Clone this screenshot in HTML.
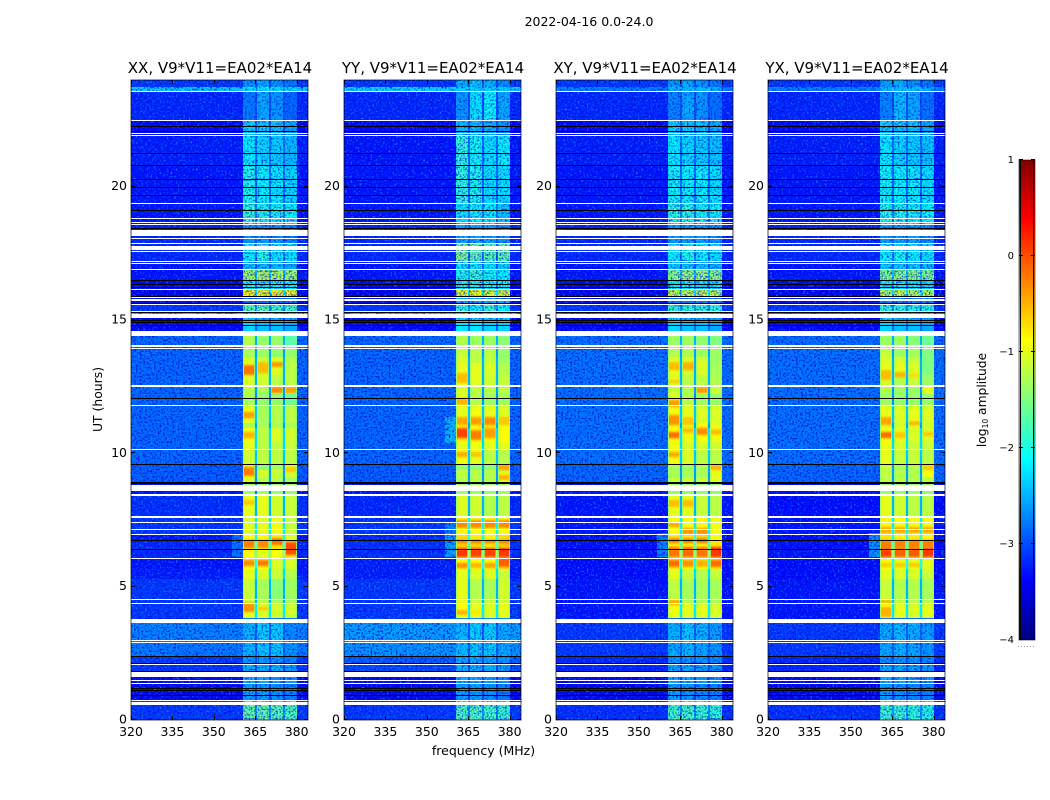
<!DOCTYPE html>
<html>
<head>
<meta charset="utf-8">
<title>2022-04-16 0.0-24.0</title>
<style>
html,body{margin:0;padding:0;background:#fff;}
svg{display:block;}
text{font-family:"DejaVu Sans","Liberation Sans",sans-serif;fill:#000;}
</style>
</head>
<body>
<svg id="figure" xmlns="http://www.w3.org/2000/svg" width="1050" height="800" viewBox="0 0 1050 800">
  <defs>
    <filter id="noise-light" x="0" y="0" width="1" height="1" color-interpolation-filters="sRGB">
      <feTurbulence type="fractalNoise" baseFrequency="0.55" numOctaves="1" seed="4"/>
      <feColorMatrix type="matrix" values="0 0 0 0 0.05  0 0 0 0 0.55  0 0 0 0 1  3.4 0 0 0 -1.75"/>
    </filter>
    <filter id="noise-dark" x="0" y="0" width="1" height="1" color-interpolation-filters="sRGB">
      <feTurbulence type="fractalNoise" baseFrequency="0.55" numOctaves="1" seed="11"/>
      <feColorMatrix type="matrix" values="0 0 0 0 0  0 0 0 0 0.05  0 0 0 0 0.85  3.4 0 0 0 -1.6"/>
    </filter>
    <filter id="soft-edge" x="-5%" y="-80%" width="110%" height="260%" color-interpolation-filters="sRGB">
      <feGaussianBlur stdDeviation="0 1"/>
    </filter>
  </defs>
  <text x="589" y="26" font-size="12.5" text-anchor="middle">2022-04-16 0.0-24.0</text>
  <text transform="translate(102,399.5) rotate(-90)" font-size="12.4" text-anchor="middle">UT (hours)</text>
  <text x="483.5" y="755" font-size="12.5" text-anchor="middle">frequency (MHz)</text>
  <text transform="translate(986,400) rotate(-90)" font-size="12.3" text-anchor="middle">log<tspan font-size="7.5" dy="2">10</tspan><tspan dy="-2"> amplitude</tspan></text>
</svg>
<script>
// Axis tick values
const freqTicks = [320, 335, 350, 365, 380];
const timeTicks = [0, 5, 10, 15, 20];
const colorTicks = [1, 0, -1, -2, -3, -4];
const panelTitles = ["XX, V9*V11=EA02*EA14", "YY, V9*V11=EA02*EA14", "XY, V9*V11=EA02*EA14", "YX, V9*V11=EA02*EA14"];

// Frequency column edges (MHz): low background, four sub-bands with gaps, high background
const freqEdges = [320, 360.7, 364.9, 365.7, 370, 370.7, 375.2, 375.9, 380, 384.1];

// Time segment edges (UT hours, from top to bottom)
const timeEdges = [24, 23.75, 23.55, 22.48, 21.9, 20.82, 19.36, 18.6, 17.85, 17.2, 16.88, 16.47, 16.14, 15.89, 15.57, 15.33, 15.22, 14.48, 13.93, 13.6, 13.37, 12.92, 12.53, 12.23, 11.78, 11.14, 10.94, 10.42, 10.13, 9.6, 9.38, 9.11, 8.9, 8.43, 7.61, 6.97, 6.74, 6.38, 6.06, 5.68, 5.3, 4.54, 4.35, 3.81, 3.62, 2.93, 2.4, 2.06, 1.82, 1.35, 0.73, 0];

// log10 amplitude in the channel gaps, one value per time segment
const gapLevels = [-3.0, -2.3, -3.0, -2.9, -2.8, -2.8, -2.7, -2.9, -2.8, -2.9, -2.4, -2.8, -2.2, -3.0, -2.6, -2.3, -2.9, -2.5, -2.6, -2.5, -2.5, -2.5, -2.6, -2.7, -2.4, -2.6, -2.3, -2.3, -2.4, -2.6, -2.6, -2.6, -2.8, -2.5, -2.2, -2.0, -1.7, -1.4, -2.0, -2.3, -2.5, -2.5, -2.2, -2.9, -2.9, -2.9, -3.0, -3.0, -3.0, -3.1, -2.6];

// log10 amplitude per time segment: [background, sub-band 1, 2, 3, 4]
const xxLevels = [
[-3.1,-2.6,-2.5,-2.6,-2.75],[-2.3,-2.2,-2.2,-2.2,-2.25],[-3.2,-2.75,-2.5,-2.6,-2.85],[-3.4,-2.3,-2.35,-2.35,-2.5],
[-3.25,-2.15,-2.25,-2.3,-2.4],[-3.3,-2.0,-2.1,-2.15,-2.25],[-3.3,-1.9,-2.0,-2.05,-2.1],[-3.2,-2.6,-2.6,-2.6,-2.7],
[-3.2,-2.1,-1.95,-2.15,-2.2],[-3.3,-2.4,-2.4,-2.4,-2.5],[-3.3,-1.35,-1.25,-1.25,-1.35],[-3.45,-2.05,-2.05,-2.1,-2.15],
[-3.5,-0.85,-0.85,-0.85,-0.9],[-3.4,-2.8,-2.8,-2.8,-2.8],[-3.1,-1.7,-1.7,-1.8,-1.8],[-2.3,-2.2,-2.2,-2.2,-2.25],
[-3.4,-2.35,-2.45,-2.45,-2.55],[-2.85,-1.25,-1.4,-1.4,-1.7],[-2.85,-1.3,-1.35,-1.4,-1.4],[-2.85,-1.05,-1.15,-1.05,-1.25],
[-2.85,-1.0,-1.1,-1.05,-1.2],[-2.85,-1.05,-1.1,-1.2,-1.2],[-2.85,-1.2,-1.3,-1.1,-1.15],[-2.85,-1.3,-1.4,-1.4,-1.6],
[-2.85,-1.0,-1.3,-1.25,-1.2],[-2.85,-1.3,-1.3,-1.3,-1.3],[-2.85,-0.95,-1.2,-1.05,-1.1],[-2.85,-1.0,-1.2,-1.2,-1.15],
[-2.85,-1.1,-1.2,-1.2,-1.2],[-2.9,-1.0,-1.4,-1.3,-1.05],[-2.9,-0.95,-1.1,-1.15,-1.1],[-2.9,-1.05,-1.25,-1.25,-1.3],
[-3.3,-1.35,-1.35,-1.35,-1.4],[-3.15,-1.0,-1.0,-1.1,-1.15],[-3.1,-1.05,-1.0,-0.95,-1.15],[-3.3,-0.9,-0.9,-0.8,-1.05],
[-3.2,-0.8,-0.85,-0.75,-0.65],[-3.2,-0.85,-1.0,-0.9,-0.75],[-3.3,-0.9,-0.9,-1.05,-1.05],[-3.25,-1.0,-1.05,-1.15,-1.25],
[-3.1,-1.15,-1.3,-1.45,-1.35],[-3.1,-1.15,-1.25,-1.3,-1.3],[-3.1,-1.0,-1.05,-1.1,-1.1],[-3.2,-2.8,-2.8,-2.8,-2.8],
[-2.7,-2.45,-2.3,-2.3,-2.65],[-2.75,-2.45,-2.35,-2.35,-2.6],[-3.1,-2.6,-2.6,-2.6,-2.7],[-3.1,-2.45,-2.45,-2.45,-2.55],
[-3.4,-2.45,-2.45,-2.55,-2.6],[-3.5,-2.55,-2.55,-2.6,-2.7],[-3.1,-1.65,-1.65,-1.7,-1.75]];

const yyLevels = [
[-3.1,-2.45,-2.35,-2.45,-2.65],[-2.25,-2.25,-2.25,-2.25,-2.25],[-3.2,-2.6,-2.2,-2.1,-2.5],[-3.4,-2.4,-2.4,-2.45,-2.6],
[-3.3,-1.9,-2.05,-2.2,-2.1],[-3.3,-1.9,-2.0,-2.2,-2.2],[-3.3,-2.2,-2.1,-2.15,-2.35],[-3.2,-2.5,-2.5,-2.5,-2.6],
[-3.2,-1.5,-1.65,-1.7,-1.65],[-3.3,-2.2,-2.2,-2.2,-2.3],[-3.3,-2.0,-1.85,-2.05,-2.1],[-3.45,-2.0,-2.0,-2.1,-2.1],
[-3.5,-1.0,-0.9,-1.1,-1.1],[-3.4,-2.5,-2.5,-2.5,-2.5],[-3.1,-1.85,-2.1,-1.85,-2.1],[-2.25,-2.2,-2.2,-2.2,-2.2],
[-3.4,-2.25,-2.25,-2.35,-2.35],[-2.85,-1.25,-1.35,-1.35,-1.45],[-2.85,-1.15,-1.2,-1.2,-1.4],[-2.85,-1.05,-1.2,-1.15,-1.35],
[-2.85,-1.0,-1.0,-1.05,-1.25],[-2.85,-0.95,-1.0,-1.1,-1.15],[-2.85,-1.05,-1.2,-1.2,-1.2],[-2.85,-1.0,-1.25,-1.35,-1.35],
[-2.85,-1.0,-0.95,-1.0,-1.05],[-2.85,-0.85,-0.85,-0.8,-0.95],[-2.85,-0.8,-0.85,-0.85,-0.9],[-2.85,-1.0,-0.95,-1.0,-1.0],
[-2.85,-0.95,-1.0,-1.2,-1.25],[-2.9,-1.4,-1.4,-1.4,-1.0],[-2.9,-1.2,-1.25,-1.25,-1.0],[-2.9,-1.25,-1.25,-1.25,-1.05],
[-3.3,-1.35,-1.35,-1.35,-1.35],[-3.2,-1.05,-1.1,-1.25,-1.2],[-3.1,-0.85,-0.9,-0.9,-0.9],[-3.2,-0.7,-0.8,-0.85,-0.7],
[-3.15,-0.65,-0.65,-0.75,-0.6],[-3.15,-0.65,-0.65,-0.65,-0.55],[-3.25,-0.85,-0.9,-0.85,-0.7],[-3.25,-1.0,-1.05,-1.05,-1.15],
[-3.1,-1.0,-1.25,-1.3,-1.1],[-3.1,-1.0,-1.15,-1.15,-1.15],[-3.1,-0.9,-1.0,-1.05,-1.0],[-3.0,-2.7,-2.7,-2.7,-2.7],
[-2.55,-2.4,-2.3,-2.3,-2.5],[-2.6,-2.4,-2.35,-2.35,-2.5],[-2.9,-2.5,-2.5,-2.5,-2.6],[-3.0,-2.45,-2.45,-2.45,-2.55],
[-3.4,-2.45,-2.45,-2.55,-2.6],[-3.5,-2.55,-2.55,-2.6,-2.7],[-3.1,-1.75,-1.75,-1.8,-1.85]];

const xyLevels = [
[-3.1,-2.55,-2.5,-2.6,-2.75],[-2.7,-2.4,-2.4,-2.4,-2.5],[-3.2,-2.7,-2.5,-2.6,-2.8],[-3.4,-2.3,-2.35,-2.35,-2.5],
[-3.25,-2.15,-2.25,-2.3,-2.35],[-3.3,-2.05,-2.1,-2.1,-2.2],[-3.3,-1.95,-1.95,-2.05,-2.1],[-3.2,-2.55,-2.55,-2.55,-2.65],
[-3.2,-2.1,-2.0,-2.15,-2.2],[-3.3,-2.35,-2.35,-2.35,-2.45],[-3.3,-1.45,-1.4,-1.4,-1.45],[-3.45,-2.1,-2.1,-2.2,-2.2],
[-3.5,-1.15,-1.15,-1.15,-1.2],[-3.4,-2.7,-2.7,-2.7,-2.7],[-3.1,-1.85,-1.9,-1.9,-1.9],[-2.7,-2.35,-2.35,-2.35,-2.35],
[-3.4,-2.35,-2.45,-2.45,-2.55],[-2.8,-1.35,-1.35,-1.4,-1.5],[-2.8,-1.25,-1.25,-1.35,-1.35],[-2.8,-1.05,-1.05,-1.05,-1.35],
[-2.8,-1.0,-1.1,-1.05,-1.3],[-2.8,-1.05,-1.2,-1.2,-1.25],[-2.8,-1.15,-1.25,-1.0,-1.15],[-2.8,-1.05,-1.25,-1.35,-1.4],
[-2.8,-0.95,-1.0,-1.05,-1.05],[-2.8,-1.0,-1.0,-0.9,-1.0],[-2.8,-0.85,-0.95,-0.9,-0.95],[-2.8,-0.95,-1.05,-1.05,-1.1],
[-2.8,-0.95,-1.05,-1.2,-1.2],[-2.85,-1.25,-1.35,-1.25,-1.0],[-2.85,-1.3,-1.3,-1.3,-1.0],[-2.85,-1.15,-1.15,-1.15,-1.0],
[-3.3,-1.4,-1.4,-1.4,-1.45],[-3.3,-1.0,-1.0,-1.15,-1.2],[-3.3,-0.9,-0.9,-0.85,-0.95],[-3.35,-0.8,-0.8,-0.75,-0.9],
[-3.35,-0.8,-0.8,-0.8,-0.75],[-3.3,-0.7,-0.7,-0.75,-0.6],[-3.35,-0.8,-0.85,-0.9,-0.75],[-3.35,-1.0,-1.15,-1.25,-1.15],
[-3.3,-1.2,-1.3,-1.3,-1.3],[-3.3,-1.05,-1.25,-1.3,-1.3],[-3.3,-0.95,-1.0,-1.0,-1.05],[-3.3,-2.85,-2.85,-2.85,-2.85],
[-3.1,-2.45,-2.35,-2.45,-2.55],[-3.1,-2.5,-2.45,-2.5,-2.6],[-3.2,-2.6,-2.6,-2.6,-2.7],[-3.2,-2.5,-2.5,-2.55,-2.6],
[-3.4,-2.45,-2.5,-2.55,-2.6],[-3.5,-2.55,-2.6,-2.65,-2.7],[-3.15,-1.8,-1.8,-1.85,-1.9]];

const yxLevels = [
[-3.1,-2.55,-2.45,-2.6,-2.75],[-2.7,-2.4,-2.4,-2.4,-2.5],[-3.2,-2.7,-2.4,-2.5,-2.8],[-3.4,-2.3,-2.35,-2.35,-2.5],
[-3.25,-2.15,-2.25,-2.3,-2.35],[-3.3,-2.05,-2.1,-2.1,-2.2],[-3.3,-2.0,-2.0,-2.05,-2.1],[-3.2,-2.55,-2.55,-2.55,-2.65],
[-3.2,-2.1,-2.05,-2.15,-2.2],[-3.3,-2.35,-2.35,-2.35,-2.45],[-3.3,-1.5,-1.45,-1.45,-1.5],[-3.45,-2.1,-2.1,-2.2,-2.2],
[-3.5,-1.25,-1.2,-1.25,-1.3],[-3.4,-2.7,-2.7,-2.7,-2.7],[-3.1,-1.9,-1.9,-1.95,-1.95],[-2.7,-2.35,-2.35,-2.35,-2.35],
[-3.4,-2.35,-2.45,-2.45,-2.55],[-2.8,-1.35,-1.35,-1.45,-1.6],[-2.8,-1.15,-1.35,-1.3,-1.5],[-2.8,-1.05,-1.05,-1.15,-1.5],
[-2.8,-1.0,-1.0,-1.05,-1.5],[-2.8,-1.1,-1.25,-1.15,-1.35],[-2.8,-1.25,-1.35,-1.35,-1.0],[-2.8,-1.35,-1.4,-1.4,-1.4],
[-2.8,-1.0,-1.05,-1.0,-1.05],[-2.8,-1.05,-1.1,-1.05,-1.1],[-2.8,-0.95,-1.0,-1.05,-1.05],[-2.8,-0.95,-1.05,-1.15,-1.15],
[-2.8,-1.0,-1.15,-1.15,-1.2],[-2.85,-1.15,-1.3,-1.25,-1.0],[-2.85,-1.2,-1.25,-1.25,-0.95],[-2.85,-1.2,-1.25,-1.25,-1.2],
[-3.35,-1.35,-1.35,-1.35,-1.4],[-3.35,-1.0,-1.1,-1.2,-1.2],[-3.3,-0.85,-0.9,-0.9,-0.95],[-3.35,-0.75,-0.85,-0.8,-0.85],
[-3.35,-0.7,-0.75,-0.75,-0.7],[-3.3,-0.65,-0.7,-0.7,-0.65],[-3.35,-0.9,-1.0,-1.0,-1.0],[-3.35,-1.0,-1.05,-1.05,-1.15],
[-3.3,-1.15,-1.25,-1.25,-1.3],[-3.3,-1.05,-1.2,-1.25,-1.25],[-3.3,-0.9,-1.0,-1.05,-1.0],[-3.3,-2.85,-2.85,-2.85,-2.85],
[-3.1,-2.5,-2.4,-2.45,-2.55],[-3.1,-2.5,-2.45,-2.5,-2.6],[-3.2,-2.6,-2.6,-2.6,-2.7],[-3.2,-2.5,-2.5,-2.55,-2.6],
[-3.4,-2.45,-2.5,-2.55,-2.6],[-3.5,-2.55,-2.6,-2.65,-2.7],[-3.15,-1.85,-1.85,-1.9,-1.95]];

// Localised bright patches: [start hour, end hour, sub-band index, level]
const xxPeaks = [[12.94,13.31,0,-0.2],[13.0,13.42,1,-0.55],[13.24,13.42,2,-0.35],[12.26,12.49,2,-0.3],[12.26,12.49,3,-0.4],[11.32,11.55,0,-0.4],[10.57,10.8,0,-0.5],[9.15,9.49,0,-0.25],[9.3,9.49,3,-0.6],[8.06,8.25,0,-0.6],[6.45,6.75,0,-0.25],[6.45,6.75,1,-0.3],[6.56,6.82,2,-0.2],[6.19,6.67,3,0.0],[5.77,6.0,0,-0.3],[5.77,6.0,1,-0.2],[4.05,4.39,0,-0.35],[4.12,4.24,1,-0.6]];
const yyPeaks = [[12.64,13.01,0,-0.55],[11.81,12.07,0,-0.5],[11.06,11.36,0,-0.45],[10.57,10.95,0,0.05],[11.06,11.36,1,-0.4],[10.5,10.87,1,-0.25],[11.06,11.36,2,-0.3],[10.57,10.95,2,-0.4],[11.06,11.36,3,-0.6],[9.86,10.05,0,-0.45],[9.86,10.05,1,-0.6],[9.37,9.56,3,-0.4],[9.0,9.19,3,-0.5],[7.2,7.5,0,-0.3],[7.2,7.5,1,-0.3],[7.2,7.5,2,-0.3],[7.2,7.5,3,-0.3],[6.64,6.75,0,-0.2],[6.64,6.75,1,-0.2],[6.64,6.75,2,-0.2],[6.64,6.75,3,-0.2],[6.11,6.45,0,0.1],[6.11,6.45,1,0.05],[6.11,6.45,2,0.05],[6.11,6.45,3,0.1],[5.74,6.11,3,-0.1],[5.7,5.89,0,-0.3],[5.7,5.89,1,-0.5],[5.7,5.89,2,-0.4],[3.94,4.12,0,-0.5],[3.94,4.12,1,-0.75]];
const xyPeaks = [[13.12,13.42,0,-0.55],[13.12,13.42,1,-0.5],[12.64,12.75,0,-0.6],[12.26,12.49,2,-0.4],[11.74,12.0,0,-0.4],[11.06,11.44,0,-0.35],[11.06,11.36,1,-0.6],[10.57,10.8,0,-0.15],[10.76,10.95,1,-0.55],[10.69,10.95,2,-0.3],[10.7,10.9,3,-0.55],[9.86,10.05,0,-0.45],[9.37,9.56,3,-0.5],[7.99,8.25,0,-0.55],[7.99,8.25,1,-0.55],[7.24,7.39,0,-0.4],[6.95,7.2,1,-0.35],[6.95,7.2,2,-0.35],[6.64,6.82,0,-0.2],[6.64,6.82,1,-0.2],[6.64,6.82,2,-0.15],[6.11,6.49,0,-0.2],[6.11,6.49,1,-0.15],[6.11,6.49,2,-0.2],[6.11,6.49,3,0.1],[5.74,6.0,0,-0.15],[5.74,6.0,1,-0.35],[5.74,6.0,2,-0.5],[5.74,6.0,3,-0.15],[4.31,4.5,0,-0.45]];
const yxPeaks = [[12.75,13.12,0,-0.55],[12.85,13.05,1,-0.5],[12.85,13.0,2,-0.7],[11.06,11.36,0,-0.45],[11.06,11.2,2,-0.5],[10.57,10.8,0,-0.15],[10.57,10.8,1,-0.6],[10.65,10.8,3,-0.6],[9.37,9.56,3,-0.6],[7.01,7.24,0,-0.45],[7.01,7.24,1,-0.45],[7.01,7.24,2,-0.45],[7.01,7.24,3,-0.45],[6.45,6.75,0,-0.25],[6.45,6.75,1,-0.25],[6.45,6.75,2,-0.25],[6.45,6.75,3,-0.25],[6.11,6.45,0,0.05],[6.11,6.45,1,-0.1],[6.11,6.45,2,-0.05],[6.11,6.45,3,0.1],[5.74,5.89,0,-0.6],[5.74,5.89,1,-0.6],[5.74,5.89,2,-0.6],[4.39,4.5,0,-0.45],[3.86,4.24,0,-0.5]];

// Shoulders of emission just below the band: [end hour, start hour, level]
const xxShoulder = [[6.1, 6.97, -2.65]];
const yyShoulder = [[10.4, 11.35, -2.3], [6.1, 6.95, -2.35], [6.95, 7.37, -2.6]];
const xyShoulder = [[6.1, 7.0, -2.5]];
const yxShoulder = [[6.1, 7.0, -2.4]];

// Fully flagged (white) time ranges: [start hour, end hour]
const flaggedHours = [[23.53,23.58],[22.46,22.5],[21.98,22.02],[21.87,21.92],[19.34,19.38],[18.77,18.81],[18.66,18.69],[18.56,18.6],[18.14,18.37],[18.04,18.09],[17.83,17.88],[17.62,17.78],[17.52,17.57],[17.17,17.22],[17.09,17.13],[16.87,16.9],[16.13,16.16],[15.82,15.87],[15.71,15.78],[15.55,15.59],[15.3,15.35],[15.07,15.22],[14.39,14.59],[13.99,14.05],[13.91,13.95],[12.54,12.58],[12.48,12.51],[11.76,11.8],[10.12,10.15],[8.57,8.8],[8.45,8.47],[8.4,8.42],[7.57,7.65],[7.37,7.41],[7.11,7.15],[6.96,6.98],[6.05,6.08],[4.52,4.54],[4.33,4.37],[3.62,3.78],[2.97,3.0],[2.87,2.91],[2.04,2.09],[1.61,1.79],[1.47,1.51],[1.33,1.37],[0.71,0.76],[0.58,0.68]];

// Near-zero amplitude (black) time ranges: [start hour, end hour]
const darkHours = [[22.26,22.28],[22.07,22.1],[21.22,21.25],[20.81,20.83],[20.24,20.27],[19.94,19.97],[19.66,19.68],[19.08,19.11],[18.42,18.44],[16.46,16.49],[16.32,16.34],[16.19,16.22],[15.88,15.9],[15.6,15.62],[15.27,15.3],[14.98,15.0],[14.89,14.91],[14.79,14.81],[12.06,12.09],[9.59,9.61],[8.86,8.92],[6.73,6.75],[6.36,6.4],[2.38,2.41],[2.12,2.15],[1.82,1.85],[1.16,1.19],[1.08,1.11],[0.89,0.92]];

const panelLefts = [131, 344, 556, 768];
const levelSets = [xxLevels, yyLevels, xyLevels, yxLevels];
const peakSets = [xxPeaks, yyPeaks, xyPeaks, yxPeaks];
const shoulderSets = [xxShoulder, yyShoulder, xyShoulder, yxShoulder];

const SVG_NS = "http://www.w3.org/2000/svg";
const figure = document.getElementById("figure");
const PANEL_W = 177, PANEL_TOP = 80, PANEL_BOTTOM = 720;

function timeY(h) { return PANEL_BOTTOM - (h / 24) * (PANEL_BOTTOM - PANEL_TOP); }
function freqX(f, left) { return left + (f - 320) * (PANEL_W / 64.1); }
function jet(level) {
  const t = Math.max(0, Math.min(1, (level + 4) / 5));
  const r = Math.max(0, Math.min(1, 1.5 - Math.abs(4 * t - 3)));
  const g = Math.max(0, Math.min(1, 1.5 - Math.abs(4 * t - 2)));
  const b = Math.max(0, Math.min(1, 1.5 - Math.abs(4 * t - 1)));
  return "rgb(" + Math.round(r * 255) + "," + Math.round(g * 255) + "," + Math.round(b * 255) + ")";
}
function make(tag, parent) {
  const el = document.createElementNS(SVG_NS, tag);
  parent.appendChild(el);
  return el;
}
function setBox(el, x0, y0, x1, y1, fill) {
  el.setAttribute("x", x0);
  el.setAttribute("y", y0);
  el.setAttribute("width", x1 - x0);
  el.setAttribute("height", y1 - y0);
  el.setAttribute("fill", fill);
  el.setAttribute("shape-rendering", "crispEdges");
}
function lineBox(el, range, left, right, fill) {
  const y0 = Math.round(timeY(range[1]));
  const span = timeY(range[0]) - timeY(range[1]);
  setBox(el, left, y0, right, y0 + Math.max(1, Math.round(span)), fill);
}

panelLefts.forEach(function (left, p) {
  const right = left + PANEL_W;
  const panel = make("g", figure);
  
  

  // heatmap cells: one per time segment and frequency column
  levelSets[p].forEach(function (row, r) {
    const y0 = Math.round(timeY(timeEdges[r]));
    const y1 = Math.round(timeY(timeEdges[r + 1]));
    const values = [row[0], row[1], gapLevels[r], row[2], gapLevels[r], row[3], gapLevels[r], row[4], row[0]];
    values.forEach(function (v, c) {
      const cell = make("rect", panel);
      
      
      setBox(cell, Math.round(freqX(freqEdges[c], left)), y0, Math.round(freqX(freqEdges[c + 1], left)), y1, jet(v));
    });
  });

  peakSets[p].forEach(function (pk) {
    const patch = make("rect", panel);
    
    
    const col = pk[2] * 2 + 1;
    patch.setAttribute("x", freqX(freqEdges[col], left) + 0.5);
    patch.setAttribute("y", timeY(pk[1]));
    patch.setAttribute("width", freqX(freqEdges[col + 1], left) - freqX(freqEdges[col], left) - 1);
    patch.setAttribute("height", timeY(pk[0]) - timeY(pk[1]));
    patch.setAttribute("fill", jet(pk[3]));
    patch.setAttribute("filter", "url(#soft-edge)");
  });

  // softer greenish rim on the sub-band edges through the bright hours
  [1, 2, 3, 4, 5, 6, 7, 8].forEach(function (e) {
    const rim = make("rect", panel);
    
    
    const x = Math.round(freqX(freqEdges[e], left));
    const leftEdge = e % 2 === 1;
    setBox(rim, leftEdge ? x : x - 1, Math.round(timeY(14.48)), leftEdge ? x + 1 : x, Math.round(timeY(3.81)), jet(-1.6));
    rim.setAttribute("opacity", "0.55");
  });

  shoulderSets[p].forEach(function (s) {
    const patch = make("rect", panel);
    
    
    setBox(patch, Math.round(freqX(356.4, left)), Math.round(timeY(s[1])), Math.round(freqX(freqEdges[1], left)), Math.round(timeY(s[0])), jet(s[2]));
    patch.setAttribute("opacity", "0.75");
  });

  // receiver-noise texture over the low-signal regions
  const noiseBoxes = [
    [left, PANEL_TOP, freqX(freqEdges[1], left), PANEL_BOTTOM, 1],
    [freqX(freqEdges[8], left), PANEL_TOP, right, PANEL_BOTTOM, 1],
    [freqX(freqEdges[1], left), PANEL_TOP, freqX(freqEdges[8], left), timeY(15), 0.8],
    [freqX(freqEdges[1], left), timeY(3.7), freqX(freqEdges[8], left), PANEL_BOTTOM, 0.8]
  ];
  noiseBoxes.forEach(function (b) {
    ["noise-light", "noise-dark"].forEach(function (id) {
      const speckle = make("rect", panel);
      
      
      speckle.setAttribute("x", Math.round(b[0]));
      speckle.setAttribute("y", Math.round(b[1]));
      speckle.setAttribute("width", Math.round(b[2]) - Math.round(b[0]));
      speckle.setAttribute("height", Math.round(b[3]) - Math.round(b[1]));
      speckle.setAttribute("filter", "url(#" + id + ")");
      speckle.setAttribute("opacity", b[4]);
    });
  });

  darkHours.forEach(function (d) {
    const line = make("rect", panel);
    
    
    lineBox(line, d, left, right, "#000");
  });
  flaggedHours.forEach(function (d) {
    const line = make("rect", panel);
    
    
    lineBox(line, d, left, right, "#fff");
  });

  // frame
  const frame = make("rect", panel);
  
  
  frame.setAttribute("x", left);
  frame.setAttribute("y", PANEL_TOP);
  frame.setAttribute("width", PANEL_W);
  frame.setAttribute("height", PANEL_BOTTOM - PANEL_TOP);
  frame.setAttribute("fill", "none");
  frame.setAttribute("stroke", "#000");
  frame.setAttribute("stroke-opacity", "0.7");
  frame.setAttribute("stroke-width", "1");

  // ticks and tick labels
  freqTicks.forEach(function (f) {
    const x = Math.round(freqX(f, left)) + 0.5;
    [[PANEL_TOP, PANEL_TOP + 4], [PANEL_BOTTOM - 4, PANEL_BOTTOM]].forEach(function (seg) {
      const tick = make("line", panel);
      
      
      tick.setAttribute("x1", x);
      tick.setAttribute("x2", x);
      tick.setAttribute("y1", seg[0]);
      tick.setAttribute("y2", seg[1]);
      tick.setAttribute("stroke", "#000");
    });
    const label = make("text", panel);
    
    
    label.setAttribute("x", freqX(f, left));
    label.setAttribute("y", 736);
    label.setAttribute("font-size", "12.5");
    label.setAttribute("text-anchor", "middle");
    label.textContent = f;
  });
  timeTicks.forEach(function (h) {
    const y = Math.round(timeY(h)) - 0.5;
    [[left, left + 4], [right - 4, right]].forEach(function (seg) {
      const tick = make("line", panel);
      
      
      tick.setAttribute("x1", seg[0]);
      tick.setAttribute("x2", seg[1]);
      tick.setAttribute("y1", y);
      tick.setAttribute("y2", y);
      tick.setAttribute("stroke", "#000");
    });
    const label = make("text", panel);
    
    
    label.setAttribute("x", left - 4);
    label.setAttribute("y", timeY(h) + 3.5);
    label.setAttribute("font-size", "12.5");
    label.setAttribute("text-anchor", "end");
    label.textContent = h;
  });

  const title = make("text", panel);
  
  
  title.setAttribute("x", left + PANEL_W / 2 + 0.5);
  title.setAttribute("y", 73);
  title.setAttribute("font-size", "15");
  title.setAttribute("text-anchor", "middle");
  title.textContent = panelTitles[p];
});

// colorbar
const CB_LEFT = 1019, CB_RIGHT = 1035, CB_TOP = 160, CB_BOTTOM = 640;
function colorY(v) { return CB_TOP + (1 - v) / 5 * (CB_BOTTOM - CB_TOP); }
const colorbar = make("g", figure);


for (let y = CB_TOP; y < CB_BOTTOM; y += 2) {
  const swatch = make("rect", colorbar);
  
  
  setBox(swatch, CB_LEFT, y, CB_RIGHT, y + 2, jet(1 - (y + 1 - CB_TOP) / (CB_BOTTOM - CB_TOP) * 5));
}
[CB_LEFT + 1.5, CB_RIGHT - 1.5].forEach(function (x) {
  const edge = make("line", colorbar);
  
  
  edge.setAttribute("x1", x);
  edge.setAttribute("x2", x);
  edge.setAttribute("y1", CB_TOP);
  edge.setAttribute("y2", CB_BOTTOM);
  edge.setAttribute("stroke", "#000");
});
const cbFrame = make("rect", colorbar);


cbFrame.setAttribute("x", CB_LEFT);
cbFrame.setAttribute("y", CB_TOP);
cbFrame.setAttribute("width", CB_RIGHT - CB_LEFT);
cbFrame.setAttribute("height", CB_BOTTOM - CB_TOP);
cbFrame.setAttribute("fill", "none");
cbFrame.setAttribute("stroke", "#000");
cbFrame.setAttribute("stroke-opacity", "0.55");
colorTicks.forEach(function (v) {
  const y = Math.round(colorY(v)) - 0.5;
  [[CB_LEFT, CB_LEFT + 4], [CB_RIGHT - 4, CB_RIGHT]].forEach(function (seg) {
    const tick = make("line", colorbar);
    
    
    tick.setAttribute("x1", seg[0]);
    tick.setAttribute("x2", seg[1]);
    tick.setAttribute("y1", y);
    tick.setAttribute("y2", y);
    tick.setAttribute("stroke", "#000");
  });
  const label = make("text", colorbar);
  
  
  label.setAttribute("x", 1014);
  label.setAttribute("y", colorY(v) + 3);
  label.setAttribute("font-size", "10");
  label.setAttribute("text-anchor", "end");
  label.textContent = String(v).replace("-", "\u2212");
});
for (let i = 0; i < 6; i++) {
  const dot = make("rect", colorbar);
  
  
  setBox(dot, 1018 + i * 3, 646, 1019 + i * 3, 647, "#999");
}
</script>
</body>
</html>
